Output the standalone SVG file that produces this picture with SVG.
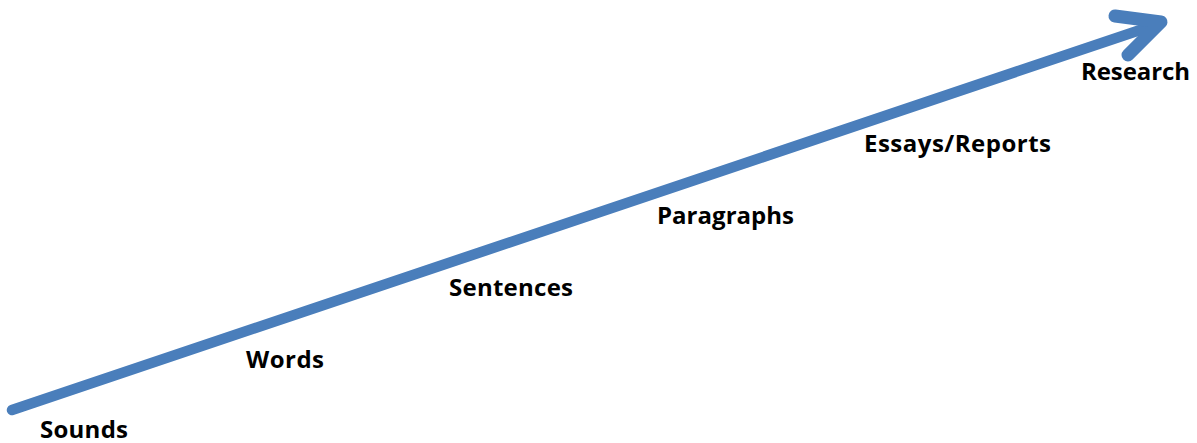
<svg xmlns="http://www.w3.org/2000/svg" width="1197" height="443" viewBox="0 0 1197 443">
<style>
.lbl{font-family:"Open Sans","Liberation Sans",sans-serif;font-weight:bold;font-size:24px;fill:#000}
.arr{stroke:#4a7ebb;stroke-width:10.5;fill:none;stroke-linecap:round;stroke-linejoin:round}
.head{stroke-width:13}
</style>
<rect width="1197" height="443" fill="#fff"/>
<g id="connectors">
<path class="arr" d="M12,410 L1158,24"/>
<path class="arr head" d="M1115,16 L1161,22 L1128,55"/>
</g>
<g id="sounds"><text class="lbl" x="40" y="438" textLength="88" lengthAdjust="spacing">Sounds</text></g>
<g id="words"><text class="lbl" x="246" y="368" textLength="78" lengthAdjust="spacing">Words</text></g>
<g id="sentences"><text class="lbl" x="449" y="296" textLength="124" lengthAdjust="spacing">Sentences</text></g>
<g id="paragraphs"><text class="lbl" x="657" y="224" textLength="137" lengthAdjust="spacing">Paragraphs</text></g>
<g id="essays"><text class="lbl" x="864" y="152" textLength="187" lengthAdjust="spacing">Essays/Reports</text></g>
<g id="research"><text class="lbl" x="1081" y="80" textLength="109" lengthAdjust="spacing">Research</text></g>
</svg>
